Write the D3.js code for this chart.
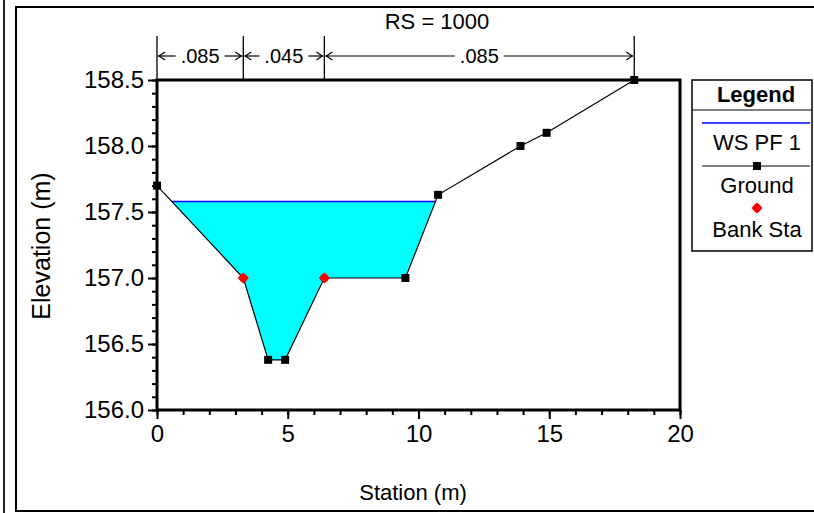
<!DOCTYPE html>
<html>
<head>
<meta charset="utf-8">
<script src="https://cdn.jsdelivr.net/npm/d3@7"></script>
<style>
  html, body { margin: 0; padding: 0; background: #fff; }
  svg { display: block; font-family: "Liberation Sans", Arial, sans-serif; }
</style>
</head>
<body>
<svg id="chart" width="814" height="513"></svg>
<script>
// Cross section RS = 1000
const title = "RS = 1000";
const groundStation = [0, 3.3, 4.25, 4.9, 6.4, 9.5, 10.75, 13.9, 14.9, 18.25];
const groundElev = [157.7, 157.0, 156.38, 156.38, 157.0, 157.0, 157.63, 158.0, 158.1, 158.5];
const bankStation = [3.3, 6.4];
const bankElev = [157.0, 157.0];
const wsElev = 157.58;
const nBreaks = [0, 3.3, 6.4, 18.25];
const nValues = [".085", ".045", ".085"];
const xTicks = [0, 5, 10, 15, 20];
const yTicks = [156.0, 156.5, 157.0, 157.5, 158.0, 158.5];
const legendLabels = ["WS PF 1", "Ground", "Bank Sta"];

const svg = d3.select("#chart");
const x = d3.scaleLinear().domain([0, 20]).range([157, 680]);
const y = d3.scaleLinear().domain([156, 158.5]).range([410, 80]);

// window frame
svg.append("line").attr("x1", 4).attr("x2", 4).attr("y1", 0).attr("y2", 513)
  .attr("stroke", "#222").attr("stroke-width", 2);
svg.append("rect").attr("x", 16).attr("y", 7).attr("width", 820).attr("height", 504)
  .attr("fill", "none").attr("stroke", "#000").attr("stroke-width", 2);

const ground = groundStation.map((s, i) => [s, groundElev[i]]);

// water area: ground below the water surface, clipped at the crossings
function waterPolygon() {
  const pts = [];
  for (let i = 0; i < ground.length - 1; i++) {
    const [s0, e0] = ground[i], [s1, e1] = ground[i + 1];
    if (e0 <= wsElev) pts.push([s0, e0]);
    if ((e0 - wsElev) * (e1 - wsElev) < 0) {
      const t = (wsElev - e0) / (e1 - e0);
      pts.push([s0 + t * (s1 - s0), wsElev]);
    }
  }
  const last = ground[ground.length - 1];
  if (last[1] <= wsElev) pts.push(last);
  return pts;
}
const water = waterPolygon();
svg.append("path")
  .attr("d", d3.line().x(d => x(d[0])).y(d => y(d[1]))(water) + "Z")
  .attr("fill", "#00ffff").attr("stroke", "none");
svg.append("line")
  .attr("x1", x(water[0][0])).attr("x2", x(water[water.length - 1][0]))
  .attr("y1", y(wsElev)).attr("y2", y(wsElev))
  .attr("stroke", "#0000ff").attr("stroke-width", 1.5);

// ground line and points (bank stations carry their own marker)
svg.append("path")
  .attr("d", d3.line().x(d => x(d[0])).y(d => y(d[1]))(ground))
  .attr("fill", "none").attr("stroke", "#000").attr("stroke-width", 1.2);
svg.selectAll("rect.gpt").data(ground.filter(d => !bankStation.includes(d[0])))
  .join("rect").attr("class", "gpt")
  .attr("x", d => x(d[0]) - 4).attr("y", d => y(d[1]) - 4)
  .attr("width", 8).attr("height", 8).attr("fill", "#000");

function bankMarker(g, cx, cy) {
  g.append("path").attr("d", d3.symbol(d3.symbolDiamond2, 80)())
    .attr("transform", `translate(${cx},${cy})`).attr("fill", "#ff0000");
  g.append("circle").attr("cx", cx).attr("cy", cy).attr("r", 4.2).attr("fill", "#ff0000");
}
bankStation.forEach((s, i) => bankMarker(svg, x(s), y(bankElev[i])));

// axes
const yAxis = d3.axisLeft(y).tickValues(yTicks).tickSize(9).tickPadding(4)
  .tickFormat(d3.format(".1f"));
const yMinor = d3.axisLeft(y).tickValues(d3.range(156, 158.55, 0.1)).tickSize(5).tickFormat("");
const xAxis = d3.axisBottom(x).tickValues(xTicks).tickSize(9).tickPadding(6);
const xMinor = d3.axisBottom(x).tickValues(d3.range(0, 21, 1)).tickSize(5).tickFormat("");

function styleAxis(g) {
  g.select(".domain").remove();
  g.selectAll("line").attr("stroke", "#000").attr("stroke-width", 2);
  g.selectAll("text").attr("fill", "#000").attr("font-size", 24)
    .attr("font-family", "'Liberation Sans', Arial, sans-serif");
}
svg.append("g").attr("transform", "translate(157,0)").call(yMinor).call(styleAxis);
svg.append("g").attr("transform", "translate(157,0)").call(yAxis).call(styleAxis);
svg.append("g").attr("transform", "translate(0,410)").call(xMinor).call(styleAxis);
svg.append("g").attr("transform", "translate(0,410)").call(xAxis).call(styleAxis);

// plot frame
svg.append("rect").attr("x", 157).attr("y", 80).attr("width", 523).attr("height", 330)
  .attr("fill", "none").attr("stroke", "#000").attr("stroke-width", 3);

// axis titles
svg.append("text").attr("x", 413).attr("y", 500).attr("text-anchor", "middle")
  .attr("font-size", 22).text("Station (m)");
svg.append("text").attr("transform", "translate(50,246) rotate(-90)").attr("text-anchor", "middle")
  .attr("font-size", 25).text("Elevation (m)");

// title
svg.append("text").attr("x", 437).attr("y", 29).attr("text-anchor", "middle")
  .attr("font-size", 22).text(title);

// Manning's n breaks
const nY = 56;
svg.selectAll("line.nb").data(nBreaks).join("line").attr("class", "nb")
  .attr("x1", d => x(d)).attr("x2", d => x(d)).attr("y1", 36).attr("y2", 80)
  .attr("stroke", "#000").attr("stroke-width", 1.3);
nValues.forEach((v, i) => {
  const a = x(nBreaks[i]), b = x(nBreaks[i + 1]);
  const mid = (a + b) / 2;
  const t = svg.append("text").attr("x", mid).attr("y", nY + 7).attr("text-anchor", "middle")
    .attr("font-size", 20).attr("fill", "#000").text(v);
  const w = t.node().getComputedTextLength();
  const g = svg.append("g").attr("stroke", "#000").attr("stroke-width", 1.2).attr("fill", "none");
  g.append("line").attr("x1", a + 1).attr("x2", mid - w / 2 - 5).attr("y1", nY).attr("y2", nY);
  g.append("line").attr("x1", mid + w / 2 + 5).attr("x2", b - 1).attr("y1", nY).attr("y2", nY);
  g.append("path").attr("d", `M${a + 8},${nY - 4}L${a + 2},${nY}L${a + 8},${nY + 4}`);
  g.append("path").attr("d", `M${b - 8},${nY - 4}L${b - 2},${nY}L${b - 8},${nY + 4}`);
});

// legend
const lg = svg.append("g");
lg.append("rect").attr("x", 692).attr("y", 80).attr("width", 120).attr("height", 171)
  .attr("fill", "#fff").attr("stroke", "#000").attr("stroke-width", 1.5);
lg.append("line").attr("x1", 692).attr("x2", 812).attr("y1", 110).attr("y2", 110)
  .attr("stroke", "#000").attr("stroke-width", 1);
lg.append("text").attr("x", 756).attr("y", 102).attr("text-anchor", "middle")
  .attr("font-size", 22).attr("font-weight", "bold").text("Legend");
lg.append("line").attr("x1", 702).attr("x2", 810).attr("y1", 123).attr("y2", 123)
  .attr("stroke", "#0000ff").attr("stroke-width", 1.5);
lg.append("line").attr("x1", 702).attr("x2", 810).attr("y1", 166).attr("y2", 166)
  .attr("stroke", "#000").attr("stroke-width", 1.2);
lg.append("rect").attr("x", 753).attr("y", 162).attr("width", 8).attr("height", 8).attr("fill", "#000");
bankMarker(lg, 757, 208);
const legendY = [150, 193, 237];
legendLabels.forEach((t, i) => {
  lg.append("text").attr("x", 757).attr("y", legendY[i]).attr("text-anchor", "middle")
    .attr("font-size", 22).text(t);
});
</script>
</body>
</html>
